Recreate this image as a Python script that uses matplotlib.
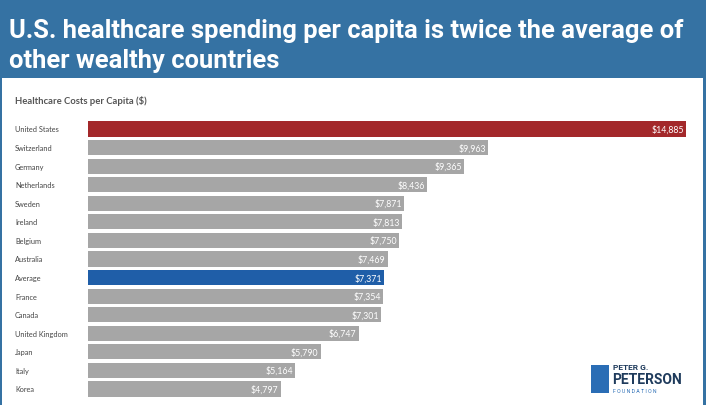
import matplotlib.pyplot as plt
from matplotlib.patches import Rectangle

countries = ['United States', 'Switzerland', 'Germany', 'Netherlands', 'Sweden',
             'Ireland', 'Belgium', 'Australia', 'Average', 'France', 'Canada',
             'United Kingdom', 'Japan', 'Italy', 'Korea']
costs = [14885, 9963, 9365, 8436, 7871, 7813, 7750, 7469, 7371, 7354, 7301,
         6747, 5790, 5164, 4797]

W, H = 706, 406
blue_hdr = '#3572a3'
gray = '#a6a6a6'
red = '#a3282a'
avg_blue = '#1f5ea8'

fig = plt.figure(figsize=(W / 100, H / 100), dpi=100)
fig.patch.set_facecolor(blue_hdr)

# background axes in pixel coords for the white panel and logo
bg = fig.add_axes([0, 0, 1, 1], zorder=-10)
bg.set_xlim(0, W)
bg.set_ylim(H, 0)
bg.axis('off')
bg.add_patch(Rectangle((2, 79), 701, H - 79, facecolor='white', edgecolor='none'))
bg.add_patch(Rectangle((591, 366), 18, 28, facecolor='#2a6db5', edgecolor='none'))

bg.text(9, 31, 'U.S. healthcare spending per capita is twice the average of',
        color='white', fontsize=18.4, fontweight='bold', family='Roboto',
        va='center', ha='left')
bg.text(9, 61, 'other wealthy countries',
        color='white', fontsize=18.4, fontweight='bold', family='Roboto',
        va='center', ha='left')

bg.text(15, 101, 'Healthcare Costs per Capita ($)', color='#555555',
        fontsize=6.8, family='Lato', fontweight='bold', va='center', ha='left')

bg.text(613, 368, 'PETER G.', color='#1f3b5c', fontsize=6,
        fontweight='bold', family='Roboto', va='center')
bg.text(612, 380, 'PETERSON', color='#1f3b5c', fontsize=10,
        fontweight='bold', family='Roboto', va='center')
bg.text(613, 392, 'F O U N D A T I O N', color='#2a6db5', fontsize=3.8,
        family='Roboto', va='center')

# bar area: x 88..686 px, rows centered 130..390 px
row = (390 - 130) / 14
top = 130 - row / 2
bot = 390 + row / 2
ax = fig.add_axes([88 / W, 1 - bot / H, (686 - 88) / W, (bot - top) / H])
ax.set_facecolor('none')

colors = []
for c in countries:
    if c == 'United States':
        colors.append(red)
    elif c == 'Average':
        colors.append(avg_blue)
    else:
        colors.append(gray)

ypos = list(range(len(countries)))
ax.barh(ypos, costs, height=0.82, color=colors)
ax.set_xlim(0, costs[0])
ax.set_ylim(len(countries) - 0.5, -0.5)
ax.axis('off')

for y, c, v in zip(ypos, countries, costs):
    ax.text(v - costs[0] * 0.004, y, '${:,}'.format(v), color='white', fontsize=6.3,
            family='Lato', ha='right', va='center')
    bg.text(15, 130 + y * row, c, color='#444444', fontsize=5.3,
            family='Lato', ha='left', va='center')

fig.savefig('out.png', dpi=100, facecolor=fig.get_facecolor())
